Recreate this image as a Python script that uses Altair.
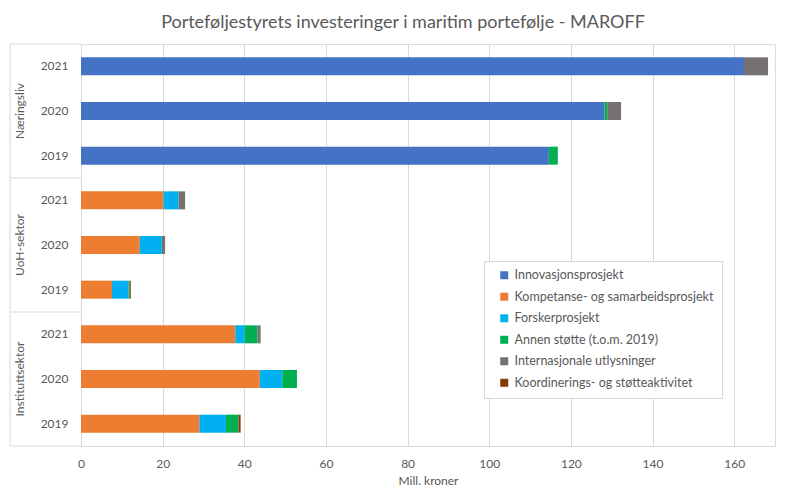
import altair as alt
import pandas as pd

# ---- data ----
groups = ["Næringsliv", "Næringsliv", "Næringsliv",
          "UoH-sektor", "UoH-sektor", "UoH-sektor",
          "Instituttsektor", "Instituttsektor", "Instituttsektor"]
years = ["2021", "2020", "2019", "2021", "2020", "2019", "2021", "2020", "2019"]

series = ["Innovasjonsprosjekt",
          "Kompetanse- og samarbeidsprosjekt",
          "Forskerprosjekt",
          "Annen støtte (t.o.m. 2019)",
          "Internasjonale utlysninger",
          "Koordinerings- og støtteaktivitet"]
colors = ["#4472C4", "#ED7D31", "#00B0F0", "#00B050", "#767171", "#843C0C"]

innovasjon = [162.4, 128.2, 114.6, 0, 0, 0, 0, 0, 0]
kompetanse = [0, 0, 0, 20.2, 14.4, 7.6, 37.8, 43.8, 29.0]
forsker    = [0, 0, 0, 3.7, 5.4, 4.0, 2.3, 5.5, 6.5]
annen      = [0, 0.7, 2.2, 0, 0, 0.3, 3.1, 3.6, 3.1]
internasj  = [5.9, 3.4, 0, 1.6, 0.8, 0, 0.8, 0, 0]
koord      = [0, 0, 0, 0, 0, 0.3, 0, 0, 0.5]

x_ticks = [0, 20, 40, 60, 80, 100, 120, 140, 160]

# ---- build tables ----
keys = [f"{g}|{y}" for g, y in zip(groups, years)]
all_vals = [innovasjon, kompetanse, forsker, annen, internasj, koord]
rows = []
for si, (s, vals) in enumerate(zip(series, all_vals)):
    for k, g, y, v in zip(keys, groups, years, vals):
        if v > 0:
            rows.append({"key": k, "group": g, "year": y, "serie": s, "idx": si, "value": v})
df = pd.DataFrame(rows)

group_names = ["Næringsliv", "UoH-sektor", "Instituttsektor"]
group_label_df = pd.DataFrame({"key": [f"{g}|2020" for g in group_names], "label": group_names})
sep_df = pd.DataFrame({"key": [f"{g}|2021" for g in group_names]})
bottom_df = pd.DataFrame({"key": [keys[-1]]})
vline_df = pd.DataFrame({"k": [1]})

FONT = "Lato"
TXT = "#595959"
GRID = "#d9d9d9"

yscale = alt.Scale(domain=keys, paddingInner=0, paddingOuter=0)

bars = alt.Chart(df).mark_bar(size=18).encode(
    x=alt.X("value:Q", stack="zero",
            scale=alt.Scale(domain=[0, 170], nice=False),
            axis=alt.Axis(values=x_ticks, title="Mill. kroner", grid=True, gridColor=GRID,
                          domain=False, ticks=False, labelColor=TXT, titleColor=TXT,
                          labelFontSize=12, titleFontSize=12, labelPadding=12,
                          labelFlush=False,
                          titleFontWeight="normal", titlePadding=6, labelFont=FONT, titleFont=FONT)),
    y=alt.Y("key:N", scale=yscale,
            axis=alt.Axis(title=None, labelExpr="split(datum.value, '|')[1]", ticks=False,
                          domain=True, domainColor=GRID, labelColor=TXT, labelFontSize=12,
                          labelPadding=13, labelFont=FONT)),
    color=alt.Color("serie:N", scale=alt.Scale(domain=series, range=colors),
                    legend=alt.Legend(title=None, orient="none", legendX=403, legendY=217,
                                      fillColor="white", strokeColor=GRID, padding=8,
                                      symbolType="square", symbolSize=64, symbolStrokeWidth=0,
                                      symbolOffset=6, labelFontSize=12.5, labelColor=TXT,
                                      labelFont=FONT, rowPadding=8.5, labelLimit=400)),
    order=alt.Order("idx:Q"),
)

glabels = alt.Chart(group_label_df).mark_text(angle=270, fontSize=12, color=TXT, font=FONT,
                                              baseline="middle", align="center").encode(
    y=alt.Y("key:N", scale=yscale),
    x=alt.value(-61),
    text="label:N",
)

seps = alt.Chart(sep_df).mark_rule(color=GRID, strokeWidth=1).encode(
    y=alt.Y("key:N", scale=yscale, bandPosition=0),
    x=alt.value(-71), x2=alt.value(0),
)
bottom = alt.Chart(bottom_df).mark_rule(color=GRID, strokeWidth=1).encode(
    y=alt.Y("key:N", scale=yscale, bandPosition=1),
    x=alt.value(-71), x2=alt.value(0),
)
vline = alt.Chart(vline_df).mark_rule(color=GRID, strokeWidth=1).encode(
    y=alt.value(0),
    y2=alt.value({"expr": "height"}),
    x=alt.value(-71),
)

chart = alt.layer(bars, seps, bottom, vline, glabels).properties(
    width=694, height=402,
    title=alt.TitleParams("Porteføljestyrets investeringer i maritim portefølje - MAROFF",
                          fontSize=18, font=FONT, color=TXT, fontWeight="normal",
                          anchor="middle", dx=-25, offset=12),
    autosize=alt.AutoSizeParams(type="none"),
    padding={"left": 73, "top": 36, "right": 20, "bottom": 50},
).configure_view(stroke=None).configure(background="white")

chart.save("out.html", embed_options={"renderer": "svg", "actions": False})
